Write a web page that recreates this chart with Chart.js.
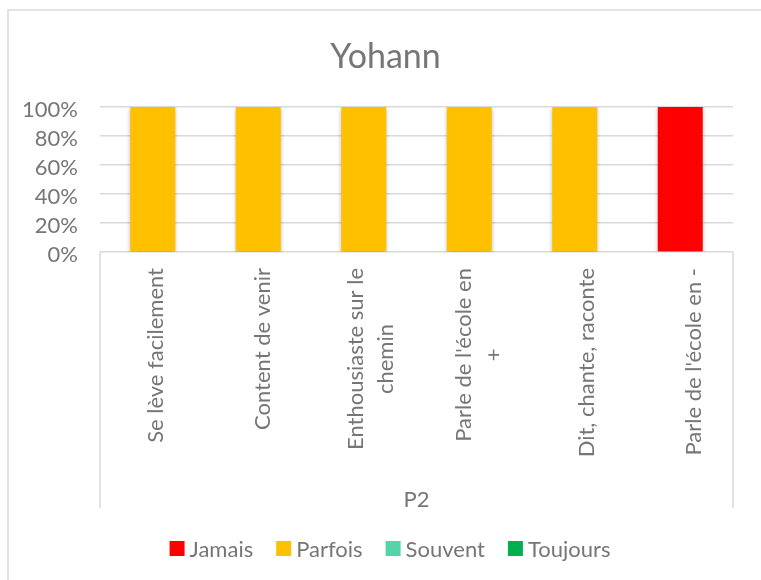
<!DOCTYPE html>
<html><head><meta charset="utf-8">
<script src="https://cdn.jsdelivr.net/npm/chart.js@4/dist/chart.umd.min.js"></script>
<style>html,body{margin:0;padding:0;background:#fff}#wrap{width:761px;height:580px;position:relative;overflow:hidden}</style>
</head><body><div id="wrap"><canvas id="c" width="761" height="580"></canvas></div>
<script>
const chartTitle = 'Yohann';
const categories = [
  ['Se lève facilement'],
  ['Content de venir'],
  ['Enthousiaste sur le', 'chemin'],
  ["Parle de l'école en", '+'],
  ['Dit, chante, raconte'],
  ["Parle de l'école en -"]
];
const groupLabel = 'P2';
const seriesNames = ['Jamais', 'Parfois', 'Souvent', 'Toujours'];
const jamais   = [0, 0, 0, 0, 0, 100];
const parfois  = [100, 100, 100, 100, 100, 0];
const souvent  = [0, 0, 0, 0, 0, 0];
const toujours = [0, 0, 0, 0, 0, 0];
const yTickValues = [0, 20, 40, 60, 80, 100];
const seriesColors = ['#FF0000', '#FFC000', '#55D3A9', '#00B050'];

const FONT = 'Lato, "Liberation Sans", sans-serif';
const TXT = '#767676';
const GRID = '#d9d9d9';
const LBL = 22;

const seriesValues = [jamais, parfois, souvent, toujours];

const framePlugin = {
  id: 'frame',
  beforeDraw(chart) {
    const ctx = chart.ctx;
    ctx.save();
    ctx.fillStyle = '#fff';
    ctx.fillRect(0, 0, chart.width, chart.height);
    ctx.strokeStyle = GRID;
    ctx.lineWidth = 1.5;
    ctx.strokeRect(8, 10, 755, 600);
    ctx.fillStyle = TXT;
    ctx.font = '34px ' + FONT;
    ctx.textAlign = 'center';
    ctx.textBaseline = 'alphabetic';
    ctx.fillText(chartTitle, 385.5, 68);
    ctx.restore();
  }
};

const shadowPlugin = {
  id: 'barShadow',
  beforeDatasetsDraw(chart) {
    const ctx = chart.ctx;
    ctx.save();
    ctx.shadowColor = 'rgba(0,0,0,0.28)';
    ctx.shadowBlur = 4;
    ctx.shadowOffsetX = 0;
    ctx.shadowOffsetY = 2;
  },
  afterDatasetsDraw(chart) {
    chart.ctx.restore();
  }
};

const catAxisPlugin = {
  id: 'catAxis',
  afterDraw(chart) {
    const ctx = chart.ctx;
    const xs = chart.scales.x;
    const area = chart.chartArea;
    const bottom = xs.bottom;
    ctx.save();
    ctx.strokeStyle = GRID;
    ctx.lineWidth = 1.5;
    ctx.beginPath();
    ctx.moveTo(area.left, area.bottom);
    ctx.lineTo(area.left, bottom);
    ctx.moveTo(area.right, area.bottom);
    ctx.lineTo(area.right, bottom);
    ctx.stroke();

    ctx.fillStyle = TXT;
    ctx.font = LBL + 'px ' + FONT;
    const endY = area.bottom + 16;
    categories.forEach((lines, i) => {
      const cx = xs.getPixelForValue(i);
      const n = lines.length;
      const baseMean = cx + 10 + i * 2.2;
      const W = Math.max(...lines.map(l => ctx.measureText(l).width));
      lines.forEach((line, k) => {
        const bx = baseMean + (k - (n - 1) / 2) * 30;
        ctx.save();
        ctx.translate(bx, endY);
        ctx.rotate(-Math.PI / 2);
        ctx.textAlign = 'center';
        ctx.textBaseline = 'alphabetic';
        ctx.fillText(line, -W / 2, 0);
        ctx.restore();
      });
    });

    ctx.textAlign = 'center';
    ctx.textBaseline = 'alphabetic';
    ctx.fillText(groupLabel, (area.left + area.right) / 2, bottom - 1);
    ctx.restore();
  }
};

const legendPlugin = {
  id: 'customLegend',
  afterDraw(chart) {
    const ctx = chart.ctx;
    ctx.save();
    ctx.font = LBL + 'px ' + FONT;
    const box = 15, gapText = 5, gapItem = 23;
    const widths = seriesNames.map(s => ctx.measureText(s).width);
    const total = widths.reduce((a, w) => a + box + gapText + w, 0) + gapItem * (seriesNames.length - 1);
    let x = 390 - total / 2;
    const cy = 548.5;
    seriesNames.forEach((name, i) => {
      ctx.fillStyle = seriesColors[i];
      ctx.fillRect(x, cy - box / 2, box, box);
      ctx.fillStyle = TXT;
      ctx.textAlign = 'left';
      ctx.textBaseline = 'middle';
      ctx.fillText(name, x + box + gapText, cy + 1);
      x += box + gapText + widths[i] + gapItem;
    });
    ctx.restore();
  }
};

new Chart(document.getElementById('c'), {
  type: 'bar',
  data: {
    labels: categories,
    datasets: seriesNames.map((name, i) => ({
      label: name,
      data: seriesValues[i],
      backgroundColor: seriesColors[i],
      borderWidth: 0,
      categoryPercentage: 1,
      barPercentage: 0.426
    }))
  },
  options: {
    responsive: false,
    animation: false,
    devicePixelRatio: 1,
    layout: { padding: { left: 0, right: 28, top: 107, bottom: 72 } },
    plugins: {
      legend: { display: false },
      tooltip: { enabled: false },
      title: { display: false }
    },
    scales: {
      x: {
        stacked: true,
        ticks: { display: false },
        grid: { display: false },
        border: { display: false },
        afterFit(s) { s.height = 256; }
      },
      y: {
        stacked: true,
        min: 0,
        max: 100,
        afterBuildTicks(s) { s.ticks = yTickValues.map(v => ({ value: v })); },
        ticks: {
          autoSkip: false,
          callback: v => v + '%',
          color: TXT,
          font: { family: FONT, size: LBL },
          padding: 22,
          labelOffset: 3
        },
        grid: { color: GRID, lineWidth: 1.5, drawTicks: false },
        border: { display: false },
        afterFit(s) { s.width = 100; }
      }
    }
  },
  plugins: [framePlugin, shadowPlugin, catAxisPlugin, legendPlugin]
});
</script>
</body></html>
